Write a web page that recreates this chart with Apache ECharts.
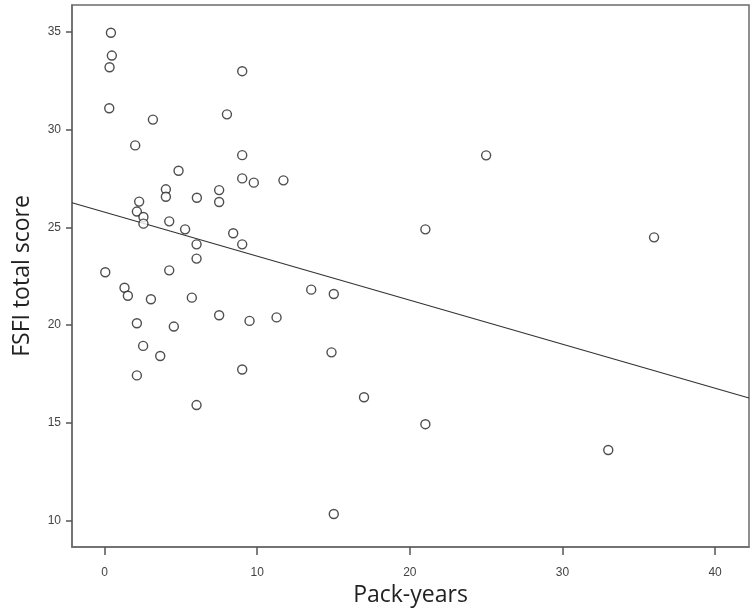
<!DOCTYPE html>
<html>
<head>
<meta charset="utf-8">
<script src="https://cdn.jsdelivr.net/npm/echarts@6/dist/echarts.min.js"></script>
<style>
html,body{margin:0;padding:0;background:#fff;}
#chart{width:756px;height:614px;}
</style>
</head>
<body>
<div id="chart"></div>
<script>
// Pack-years (x) and FSFI total score (y) for each participant
const packYears = [0.42,0.48,0.33,9.02,0.31,3.17,8.02,
  2.01,9.02,4.85,9.02,9.78,11.72,4.02,4.02,7.51,7.51,6.05,2.27,2.12,2.55,2.55,4.24,5.28,8.43,6.03,9.02,6.03,
  0.05,4.24,1.31,1.53,3.04,5.72,13.54,15.02,2.12,4.54,7.51,9.50,11.27,2.53,3.65,2.12,9.02,6.03,14.87,
  17.0,15.02,
  25.0,21.02,36.0,21.02,33.0];
const fsfiScore = [34.97,33.8,33.2,33.0,31.1,30.52,30.79,
  29.2,28.7,27.9,27.51,27.29,27.41,26.95,26.57,26.91,26.30,26.52,26.32,25.81,25.53,25.19,25.31,24.90,24.70,24.13,24.13,23.40,
  22.70,22.80,21.91,21.5,21.32,21.40,21.81,21.59,20.09,19.92,20.50,20.21,20.39,18.93,18.41,17.42,17.72,15.90,18.60,
  16.30,10.32,
  28.69,24.90,24.49,14.92,13.60];
// Linear fit line: FSFI = intercept + slope * packYears
const fitIntercept = 25.78;
const fitSlope = -0.2255;
// Axis ranges and tick labels
const xMin = -2.13, xMax = 42.22;
const yMin = 8.63, yMax = 36.39;
const xTicks = [0, 10, 20, 30, 40];
const yTicks = [10, 15, 20, 25, 30, 35];

const points = packYears.map((x, i) => [x, fsfiScore[i]]);
const fitLine = [[xMin, fitIntercept + fitSlope * xMin], [xMax, fitIntercept + fitSlope * xMax]];

const chart = echarts.init(document.getElementById('chart'), null, {renderer: 'canvas'});
const font = '"Open Sans", "Liberation Sans", sans-serif';
const tickFont = '"Liberation Sans", Arial, sans-serif';
chart.setOption({
  animation: false,
  backgroundColor: '#fff',
  grid: {left: 72, right: 7, top: 5, bottom: 67, show: true, borderColor: '#6b6b6b', borderWidth: 1.5, backgroundColor: 'transparent'},
  xAxis: {
    type: 'value', min: xMin, max: xMax,
    name: 'Pack-years', nameLocation: 'middle', nameGap: 37,
    nameTextStyle: {fontFamily: font, fontSize: 23, color: '#222'},
    axisLine: {show: true, onZero: false, lineStyle: {color: '#6b6b6b', width: 1.5}},
    axisTick: {show: true, length: 8, inside: false, customValues: xTicks, lineStyle: {color: '#555', width: 1.5}},
    axisLabel: {customValues: xTicks, margin: 20, fontFamily: tickFont, fontSize: 12, color: '#444'},
    splitLine: {show: false}
  },
  yAxis: {
    type: 'value', min: yMin, max: yMax,
    name: 'FSFI total score', nameLocation: 'middle', nameGap: 38, nameRotate: 90,
    nameTextStyle: {fontFamily: font, fontSize: 23, color: '#222'},
    axisLine: {show: true, onZero: false, lineStyle: {color: '#6b6b6b', width: 1.5}},
    axisTick: {show: true, length: 6, customValues: yTicks, lineStyle: {color: '#555', width: 1.5}},
    axisLabel: {customValues: yTicks, margin: 11, fontFamily: tickFont, fontSize: 12, color: '#444'},
    splitLine: {show: false}
  },
  series: [
    {
      type: 'line', data: fitLine, symbol: 'none', silent: true,
      lineStyle: {color: '#333', width: 1.2}, z: 1
    },
    {
      type: 'scatter', data: points, symbol: 'circle', symbolSize: 9,
      itemStyle: {color: '#fff', borderColor: '#222', borderWidth: 1.4}, z: 2
    }
  ]
});
</script>
</body>
</html>
